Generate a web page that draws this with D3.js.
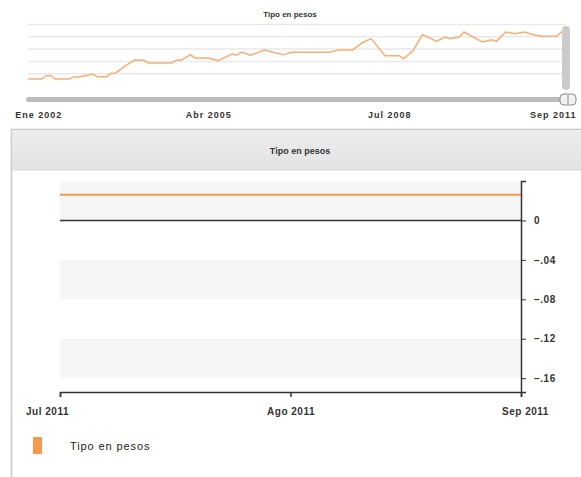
<!DOCTYPE html>
<html>
<head>
<meta charset="utf-8">
<script src="https://cdn.jsdelivr.net/npm/d3@7"></script>
<style>
  body { margin:0; background:#fff; }
  text { font-family: "Liberation Sans", Arial, sans-serif; }
</style>
</head>
<body>
<div id="chart"></div>
<script>
// overview series (whole period)
var overviewDates = ["2002-01","2002-04","2002-05","2002-06","2002-07","2002-10","2002-11","2002-12","2003-01","2003-03","2003-04","2003-06","2003-07","2003-08","2003-10","2003-12","2004-02","2004-03","2004-08","2004-09","2004-10","2004-12","2005-01","2005-04","2005-06","2005-09","2005-10","2005-11","2006-01","2006-04","2006-08","2006-10","2007-06","2007-08","2007-11","2008-01","2008-03","2008-06","2008-09","2008-10","2008-12","2009-02","2009-04","2009-05","2009-07","2009-08","2009-10","2009-11","2010-01","2010-03","2010-05","2010-06","2010-08","2010-10","2010-12","2011-02","2011-04","2011-07","2011-09"];
var overviewValues = [0.57,0.57,0.84,0.84,0.57,0.57,0.76,0.73,0.81,0.98,0.76,0.76,1.03,1.06,1.63,2.11,2.09,1.87,1.87,2.09,2.09,2.54,2.28,2.28,2.06,2.60,2.50,2.76,2.50,2.93,2.54,2.74,2.74,2.93,2.93,3.50,3.85,2.46,2.46,2.22,2.87,4.17,3.85,3.63,3.98,3.85,3.98,4.39,3.98,3.58,3.76,3.63,4.39,4.25,4.39,4.17,4.04,4.04,4.72];
var overviewGrid = [1,2,3,4,5];
var overviewTicks = ["2002-01","2005-04","2008-07","2011-09"];
var overviewLabels = ["Ene 2002","Abr 2005","Jul 2008","Sep 2011"];

// detail series (selected range)
var seriesName = "Tipo en pesos";
var detailDates = ["2011-07-01","2011-08-01","2011-09-01"];
var detailValues = [0.026,0.026,0.026];
var yTicks = [0,-0.04,-0.08,-0.12,-0.16];
var xTicks = ["2011-07-01","2011-08-01","2011-09-01"];
var xLabels = ["Jul 2011","Ago 2011","Sep 2011"];

var width = 581, height = 477;
var parseM = d3.timeParse("%Y-%m");
var parseD = d3.timeParse("%Y-%m-%d");

var svg = d3.select("#chart").append("svg")
    .attr("width", width)
    .attr("height", height);

svg.append("rect").attr("width", width).attr("height", height).attr("fill", "#fff");

// ---- overview ----
var xo = d3.scaleTime()
    .domain([parseM("2002-01"), parseM("2011-09")])
    .range([28, 566]);
var yo = d3.scaleLinear().domain([0, 5]).range([86, 24.5]);

svg.append("text")
    .attr("x", 290).attr("y", 17)
    .attr("text-anchor", "middle")
    .style("font-size", "8px").style("font-weight", "bold")
    .attr("fill", "#333")
    .text(seriesName);

svg.selectAll(".ogrid")
    .data(overviewGrid)
  .enter().append("line")
    .attr("x1", 28).attr("x2", 566)
    .attr("y1", function(d){ return yo(d); })
    .attr("y2", function(d){ return yo(d); })
    .attr("stroke", "#e9e9e9")
    .attr("stroke-width", 1.5);

var ovData = overviewDates.map(function(d,i){ return {date: parseM(d), value: overviewValues[i]}; });

svg.append("path")
    .datum(ovData)
    .attr("fill", "none")
    .attr("stroke", "#f8ad72")
    .attr("stroke-width", 1.5)
    .attr("d", d3.line()
      .x(function(d){ return xo(d.date); })
      .y(function(d){ return yo(d.value); }));

// selection handle (right edge)
svg.append("rect")
    .attr("x", xo(parseM("2011-09")) - 4).attr("y", 26)
    .attr("width", 8).attr("height", 64).attr("rx", 4)
    .attr("fill", "#cbcbcb");

// scrollbar
svg.append("rect")
    .attr("x", 26).attr("y", 97)
    .attr("width", 548).attr("height", 5).attr("rx", 2.5)
    .attr("fill", "#bcbcbc");
svg.append("rect")
    .attr("x", 560).attr("y", 94)
    .attr("width", 16).attr("height", 11).attr("rx", 4)
    .attr("fill", "#f2f2f2").attr("stroke", "#8c8c8c");
svg.append("line")
    .attr("x1", 568).attr("x2", 568).attr("y1", 95).attr("y2", 104)
    .attr("stroke", "#8c8c8c");

svg.selectAll(".olabel")
    .data(overviewTicks)
  .enter().append("text")
    .attr("class", "olabel")
    .attr("x", function(d,i){
      var x = xo(parseM(d));
      var w = overviewLabels[i].length * 3.1;
      return Math.min(Math.max(x, 14 + w), 578 - w);
    })
    .attr("y", 118)
    .attr("text-anchor", "middle")
    .style("font-size", "9px").style("font-weight", "bold")
    .style("letter-spacing", "1px")
    .attr("fill", "#333")
    .text(function(d,i){ return overviewLabels[i]; });

// ---- detail panel ----
svg.append("line")
    .attr("x1", 11).attr("x2", width).attr("y1", 129.5).attr("y2", 129.5)
    .attr("stroke", "#c8c8c8").attr("stroke-width", 1.5);
svg.append("line")
    .attr("x1", 11.5).attr("x2", 11.5).attr("y1", 129).attr("y2", height)
    .attr("stroke", "#c8c8c8").attr("stroke-width", 1.5);

var grad = svg.append("defs").append("linearGradient")
    .attr("id", "hdr").attr("x1", 0).attr("x2", 0).attr("y1", 0).attr("y2", 1);
grad.append("stop").attr("offset", "0%").attr("stop-color", "#ececec");
grad.append("stop").attr("offset", "100%").attr("stop-color", "#e3e3e3");

svg.append("rect")
    .attr("x", 12).attr("y", 130.5)
    .attr("width", width - 12).attr("height", 39)
    .attr("fill", "url(#hdr)");
svg.append("line")
    .attr("x1", 12).attr("x2", width).attr("y1", 170).attr("y2", 170)
    .attr("stroke", "#d0d0d0");

svg.append("text")
    .attr("x", 300).attr("y", 154)
    .attr("text-anchor", "middle")
    .style("font-size", "9px").style("font-weight", "bold")
    .attr("fill", "#333")
    .text(seriesName);

var x = d3.scaleTime()
    .domain([parseD("2011-07-01"), parseD("2011-09-01")])
    .range([60, 521]);
var y = d3.scaleLinear().domain([-0.174, 0.04]).range([392, 181]);

// alternating bands
var bands = [[0.04,0],[-0.04,-0.08],[-0.12,-0.16]];
svg.selectAll(".band")
    .data(bands)
  .enter().append("rect")
    .attr("x", 60)
    .attr("width", 461)
    .attr("y", function(d){ return y(d[0]); })
    .attr("height", function(d){ return y(d[1]) - y(d[0]); })
    .attr("fill", "#f6f6f6");

// zero line
svg.append("line")
    .attr("x1", 60).attr("x2", 521)
    .attr("y1", y(0)).attr("y2", y(0))
    .attr("stroke", "#333").attr("stroke-width", 1.5);

var detData = detailDates.map(function(d,i){ return {date: parseD(d), value: detailValues[i]}; });

svg.append("path")
    .datum(detData)
    .attr("fill", "none")
    .attr("stroke", "#f7994a")
    .attr("stroke-width", 2)
    .attr("d", d3.line()
      .x(function(d){ return x(d.date); })
      .y(function(d){ return y(d.value); }));

// y axis on the right
var yAxis = svg.append("g")
    .attr("transform", "translate(521,0)")
    .call(d3.axisRight(y)
      .tickValues(yTicks)
      .tickSizeOuter(0)
      .tickSize(5)
      .tickPadding(8)
      .tickFormat(function(d){
        if(d==0){ return "0"; }
        return d3.format(".2f")(d).replace("0.", ".");
      }));
yAxis.select(".domain").attr("stroke", "#333").attr("stroke-width", 1.5);
yAxis.selectAll(".tick line").attr("stroke", "#333");
yAxis.selectAll("text")
    .style("font-size", "10px").style("font-weight", "bold")
    .style("letter-spacing", "0.5px")
    .attr("fill", "#333");

// x axis
var labelShift = [-13, 0, 4];
var xAxis = svg.append("g")
    .attr("transform", "translate(0,392)")
    .call(d3.axisBottom(x)
      .tickValues(xTicks.map(parseD))
      .tickSizeOuter(0)
      .tickSize(5)
      .tickPadding(11)
      .tickFormat(function(d,i){ return xLabels[i]; }));
xAxis.select(".domain").attr("stroke", "#333").attr("stroke-width", 1.5);
xAxis.selectAll(".tick line").attr("stroke", "#333").attr("stroke-width", 1.5);
xAxis.selectAll("text")
    .attr("dx", function(d,i){ return labelShift[i]; })
    .style("font-size", "10px").style("font-weight", "bold")
    .style("letter-spacing", "0.5px")
    .attr("fill", "#333");

// legend
svg.append("rect")
    .attr("x", 33).attr("y", 437)
    .attr("width", 9).attr("height", 17).attr("rx", 1)
    .attr("fill", "#f7994a");
svg.append("text")
    .attr("x", 70).attr("y", 450)
    .style("font-size", "11px")
    .style("letter-spacing", "0.9px")
    .attr("fill", "#222")
    .text(seriesName);
</script>
</body>
</html>
